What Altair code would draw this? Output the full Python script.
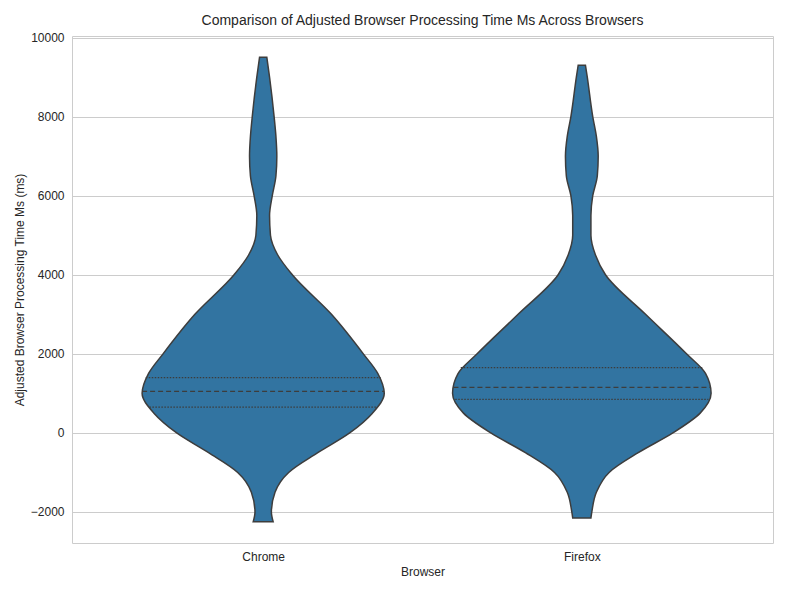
import altair as alt
import pandas as pd

browsers = ["Chrome", "Firefox"]
# outline: y value (ms) and half-width (px at 350 px per category)
chrome_y = [-2250, -2000, -1500, -1000, -500, 0, 500, 1000, 1500, 2000, 3000, 4000, 4500, 5000, 5500, 6000, 6500, 7000, 7500, 8000, 9000, 9500]
chrome_w = [11, 9, 13, 28, 60, 95, 120, 133, 126, 110, 75, 32, 16, 8, 7, 10, 14, 15, 14, 12, 7, 4]
firefox_y = [-2150, -2000, -1500, -1000, -500, 0, 500, 1000, 1500, 2000, 3000, 4000, 4500, 5000, 5500, 6000, 6500, 7000, 7500, 8000, 9000, 9300]
firefox_w = [10, 11, 16, 30, 62, 100, 130, 142, 136, 115, 70, 26, 15, 10, 10, 12, 17, 18, 16, 12, 6, 4]
quart_y = {"Chrome": [650, 1050, 1400], "Firefox": [850, 1150, 1650]}
quart_w = {"Chrome": [125, 133, 129], "Firefox": [139, 141, 133]}

PX = 350.0
rows = []
for i, (ys, ws) in enumerate([(chrome_y, chrome_w), (firefox_y, firefox_w)]):
    for y, w in zip(ys, ws):
        rows.append({"browser": browsers[i], "y": y, "x1": i - w / PX, "x2": i + w / PX})
df = pd.DataFrame(rows)

qrows = []
for i, b in enumerate(browsers):
    for k, (y, w) in enumerate(zip(quart_y[b], quart_w[b])):
        qrows.append({"y": y, "x1": i - w / PX, "x2": i + w / PX, "kind": "median" if k == 1 else "q"})
qdf = pd.DataFrame(qrows)

F = "Liberation Sans"
xsc = alt.Scale(domain=[-0.5, 1.5])
ysc = alt.Scale(domain=[-2785, 10040], nice=False)
xax = alt.Axis(values=[0, 1], labelExpr="datum.value == 0 ? 'Chrome' : 'Firefox'", grid=False,
               title="Browser", ticks=False, domain=False, labelFontSize=12, titleFontSize=12,
               titleFontWeight="normal", labelColor="#262626", titleColor="#262626", labelPadding=8)
yax = alt.Axis(values=[-2000, 0, 2000, 4000, 6000, 8000, 10000], format="d", grid=True, gridColor="#cccccc",
               ticks=False, domain=False, title="Adjusted Browser Processing Time Ms (ms)",
               labelFontSize=12, titleFontSize=12, titleFontWeight="normal",
               labelColor="#262626", titleColor="#262626", labelPadding=8)

layers = []
for b in browsers:
    layers.append(alt.Chart(df[df.browser == b]).mark_area(
        orient="horizontal", interpolate="monotone", color="#3274a1", stroke="#3d3d3d", strokeWidth=1.5, opacity=1
    ).encode(y=alt.Y("y:Q", scale=ysc, axis=yax), x=alt.X("x1:Q", scale=xsc, axis=xax), x2="x2:Q"))

med = alt.Chart(qdf[qdf.kind == "median"]).mark_rule(color="#3d3d3d", strokeDash=[5, 3], strokeWidth=1.3).encode(
    y="y:Q", x="x1:Q", x2="x2:Q")
qs = alt.Chart(qdf[qdf.kind == "q"]).mark_rule(color="#3d3d3d", strokeDash=[1.5, 1.5], strokeWidth=1.3).encode(
    y="y:Q", x="x1:Q", x2="x2:Q")

chart = alt.layer(*layers, med, qs).properties(
    width=701, height=507,
    title=alt.Title("Comparison of Adjusted Browser Processing Time Ms Across Browsers",
                    fontSize=14, fontWeight="normal", color="#262626", font=F),
).configure(font=F).configure_view(stroke="#cccccc", strokeWidth=1)

chart.save("out.html", embed_options={"renderer": "svg", "actions": False})
